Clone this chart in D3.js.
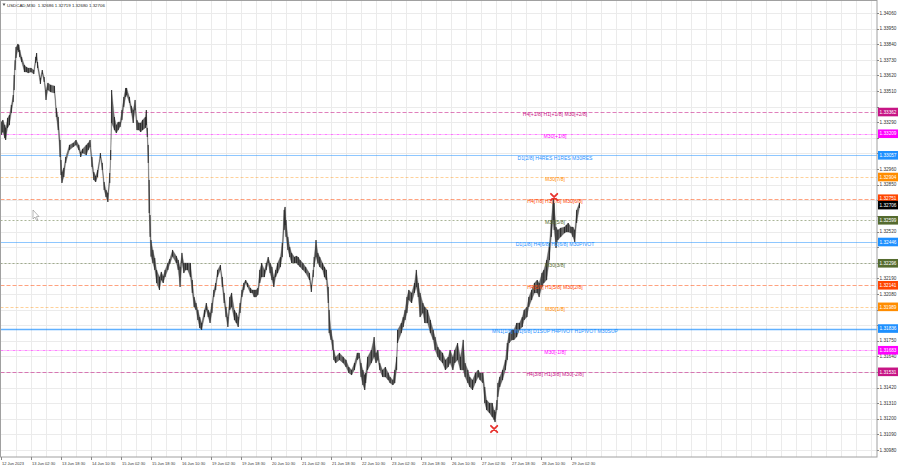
<!DOCTYPE html>
<html><head><meta charset="utf-8">
<script src="https://cdn.jsdelivr.net/npm/d3@7"></script>
<style>
body{margin:0;background:#fff}
svg{display:block}
text{font-family:"Liberation Sans",Arial,sans-serif}
</style>
</head><body>
<svg id="c" width="900" height="468"></svg>
<script>
// ---- data ----
const symbolTitle = "USDCAD,M30  1.32686 1.32719 1.32680 1.32706";
const bars = [
0,2,4,5,7,9,11,13,14,15,
16,18,19,20,22,25,27,29,32,35,
37,38,39,42,44,46,48,50,53,57,
59,61,63,64,65,67,69,73,77,80,
83,85,87,91,93,95,97,99,101,103,
106,108,110,112,114,116,117,118,121,123,
125,127,129,131,133,134,137,139,141,143,
145,147,149,151,154,155,156,157,158,159,
160,162,164,166,169,171,173,175,178,180,
183,187,189,191,193,195,197,199,202,204,
206,208,210,212,214,217,219,221,223,225,
227,229,231,234,236,238,240,242,244,246,
249,251,253,255,257,259,261,263,266,268,
270,272,274,276,278,281,283,285,287,289,
291,293,295,298,300,302,303,304,306,308,
310,313,315,317,319,322,325,329,331,333,
334,336,338,340,343,345,347,349,350,352,
354,355,357,361,365,368,371,374,377,380,
382,384,386,388,389,391,395,398,400,402,
404,407,410,413,415,418,420,422,423,427,
429,431,433,435,438,441,443,445,447,450,
452,455,458,461,463,466,468,471,474,477,
479,482,484,487,490,493,495,498,500,503,
506,509,511,514,516,518,521,524,526,527,
529,530,532,535,538,540,542,545,547,550,
553,556,558,561,563,566,569,572,574,577,
579,582,585,587,589,590,592,594,597,601,
603,605,608,610,612,614,617];
const highs = [
1.33292,1.33306,1.33271,1.33250,1.33320,1.33341,1.33412,1.33482,1.33623,1.33727,
1.33820,1.33842,1.33835,1.33799,1.33750,1.33693,1.33679,1.33672,1.33672,1.33658,
1.33750,1.33778,1.33715,1.33602,1.33658,1.33609,1.33517,1.33567,1.33553,1.33546,
1.33390,1.33327,1.33165,1.33024,1.32939,1.32968,1.33045,1.33130,1.33144,1.33165,
1.33130,1.33080,1.33102,1.33130,1.33144,1.33165,1.33045,1.32939,1.32911,1.32953,
1.33073,1.33003,1.32869,1.32813,1.32791,1.32932,1.33094,1.33517,1.33327,1.33271,
1.33292,1.33292,1.33376,1.33468,1.33531,1.33531,1.33468,1.33405,1.33376,1.33447,
1.33306,1.33285,1.33285,1.33306,1.33327,1.33376,1.33250,1.33130,1.32883,1.32636,
1.32460,1.32390,1.32333,1.32249,1.32199,1.32235,1.32206,1.32249,1.32298,1.32326,
1.32390,1.32347,1.32319,1.32270,1.32369,1.32298,1.32298,1.32298,1.32298,1.32178,
1.32058,1.32016,1.31967,1.31917,1.31875,1.31967,1.32016,1.31967,1.31946,1.32016,
1.32108,1.32157,1.32249,1.32284,1.32199,1.32087,1.31988,1.31917,1.32058,1.32087,
1.31967,1.31946,1.31917,1.32016,1.32108,1.32157,1.32178,1.32157,1.32122,1.32108,
1.32108,1.32108,1.32122,1.32249,1.32298,1.32249,1.32298,1.32340,1.32298,1.32270,
1.32199,1.32249,1.32298,1.32340,1.32439,1.32671,1.32693,1.32601,1.32482,1.32411,
1.32369,1.32340,1.32347,1.32340,1.32319,1.32298,1.32270,1.32227,1.32143,1.32249,
1.32340,1.32460,1.32369,1.32340,1.32298,1.32270,1.32249,1.32129,1.31967,1.31826,
1.31756,1.31685,1.31636,1.31664,1.31636,1.31615,1.31565,1.31544,1.31593,1.31664,
1.31664,1.31593,1.31544,1.31509,1.31523,1.31636,1.31685,1.31776,1.31664,1.31685,
1.31593,1.31544,1.31565,1.31523,1.31495,1.31473,1.31544,1.31636,1.31826,1.31875,
1.31917,1.31967,1.32058,1.32108,1.32087,1.32157,1.32249,1.32157,1.32087,1.32016,
1.31988,1.31967,1.31896,1.31826,1.31776,1.31706,1.31685,1.31664,1.31615,1.31636,
1.31685,1.31636,1.31685,1.31734,1.31636,1.31756,1.31593,1.31544,1.31495,1.31473,
1.31523,1.31544,1.31523,1.31523,1.31424,1.31332,1.31311,1.31311,1.31262,1.31248,
1.31332,1.31452,1.31495,1.31544,1.31615,1.31734,1.31805,1.31826,1.31826,1.31875,
1.31875,1.31917,1.31967,1.31988,1.32058,1.32108,1.32157,1.32178,1.32157,1.32227,
1.32249,1.32319,1.32439,1.32601,1.32756,1.32721,1.32552,1.32531,1.32545,1.32552,
1.32566,1.32580,1.32552,1.32552,1.32531,1.32671,1.32721];
const lows = [
1.33200,1.33221,1.33179,1.33165,1.33250,1.33271,1.33355,1.33433,1.33517,1.33658,
1.33743,1.33799,1.33785,1.33750,1.33715,1.33644,1.33644,1.33637,1.33644,1.33630,
1.33708,1.33727,1.33672,1.33560,1.33630,1.33574,1.33447,1.33517,1.33503,1.33496,
1.33327,1.33235,1.33045,1.32918,1.32862,1.32904,1.33003,1.33094,1.33116,1.33130,
1.33094,1.33045,1.33073,1.33059,1.33094,1.33116,1.32975,1.32883,1.32869,1.32904,
1.33038,1.32953,1.32813,1.32763,1.32728,1.32862,1.33024,1.33285,1.33235,1.33214,
1.33235,1.33257,1.33306,1.33398,1.33468,1.33482,1.33426,1.33355,1.33285,1.33376,
1.33235,1.33235,1.33221,1.33235,1.33250,1.33271,1.33186,1.33003,1.32650,1.32482,
1.32343,1.32298,1.32249,1.32157,1.32108,1.32178,1.32157,1.32199,1.32249,1.32291,
1.32343,1.32298,1.32249,1.32129,1.32298,1.32227,1.32249,1.32249,1.32199,1.32087,
1.31988,1.31967,1.31896,1.31840,1.31826,1.31917,1.31967,1.31917,1.31875,1.31946,
1.32058,1.32108,1.32199,1.32249,1.32129,1.32016,1.31917,1.31847,1.31967,1.31988,
1.31896,1.31875,1.31847,1.31946,1.32058,1.32108,1.32157,1.32129,1.32087,1.32087,
1.32058,1.32058,1.32073,1.32157,1.32199,1.32199,1.32249,1.32298,1.32227,1.32178,
1.32129,1.32199,1.32227,1.32270,1.32340,1.32531,1.32566,1.32482,1.32390,1.32340,
1.32298,1.32298,1.32298,1.32284,1.32270,1.32249,1.32227,1.32178,1.32094,1.32199,
1.32270,1.32340,1.32298,1.32270,1.32249,1.32199,1.32178,1.32016,1.31805,1.31756,
1.31685,1.31615,1.31593,1.31615,1.31593,1.31565,1.31523,1.31509,1.31544,1.31615,
1.31628,1.31495,1.31438,1.31403,1.31452,1.31544,1.31593,1.31636,1.31593,1.31615,
1.31544,1.31495,1.31495,1.31473,1.31452,1.31438,1.31452,1.31544,1.31734,1.31805,
1.31847,1.31896,1.31946,1.32037,1.32016,1.32087,1.32129,1.32058,1.31917,1.31946,
1.31875,1.31875,1.31805,1.31756,1.31685,1.31636,1.31615,1.31593,1.31544,1.31565,
1.31593,1.31544,1.31593,1.31615,1.31544,1.31544,1.31495,1.31452,1.31424,1.31403,
1.31452,1.31495,1.31473,1.31452,1.31311,1.31262,1.31241,1.31213,1.31192,1.31177,
1.31262,1.31354,1.31424,1.31473,1.31544,1.31615,1.31734,1.31756,1.31756,1.31776,
1.31826,1.31847,1.31896,1.31917,1.31988,1.32037,1.32087,1.32087,1.32058,1.32129,
1.32157,1.32178,1.32319,1.32482,1.32601,1.32531,1.32404,1.32460,1.32482,1.32509,
1.32516,1.32516,1.32509,1.32482,1.32446,1.32580,1.32686];

const timeLabels = ["12 Jun 2023","13 Jun 02:30","13 Jun 18:30","14 Jun 10:30","15 Jun 02:30","15 Jun 18:30","16 Jun 10:30","19 Jun 02:30","19 Jun 18:30","20 Jun 10:30","21 Jun 02:30","21 Jun 18:30","22 Jun 10:30","23 Jun 02:30","23 Jun 18:30","26 Jun 10:30","27 Jun 02:30","27 Jun 18:30","28 Jun 10:30","29 Jun 02:30"];
const barsPerLabel = 32;
const priceTicks = [1.34060,1.33950,1.33840,1.33730,1.33620,1.33510,1.33400,1.33290,1.33180,1.33070,1.32960,1.32850,1.32740,1.32630,1.32520,1.32410,1.32300,1.32190,1.32080,1.31970,1.31860,1.31750,1.31640,1.31530,1.31420,1.31310,1.31200,1.31090,1.30980];

const levelPrices = [1.33362,1.33209,1.33057,1.32904,1.32751,1.32599,1.32446,1.32296,1.32141,1.31989,1.31836,1.31683,1.31531];
const levelNames = ["H4[+1/8] H1[+1/8] M30[+2/8]","M30[+1/8]","D1[2/8] H4RES H1RES M30RES","M30[7/8]","H4[7/8] H1[7/8] M30[6/8]","M30[5/8]","D1[1/8] H4[6/8] H1[6/8] M30PIVOT","M30[3/8]","H4[5/8] H1[5/8] M30[2/8]","M30[1/8]","MN1[1/8] W1[6/8] D1SUP H4PIVOT H1PIVOT M30SUP","M30[-1/8]","H4[3/8] H1[3/8] M30[-2/8]"];
const levelGroups = ["outer","ext","res","m30out","inner","m30mid","pivot","m30mid","inner","m30out","sup","ext","outer"];
const currentPrice = 1.32706;
const markerBars = [590, 526];
const markerPrices = [1.32763, 1.31128];

// ---- styles ----
const groupStyle = {
  outer:{c:"#c71585",dash:"4,2",w:1,op:0.55},
  ext:{c:"#ff00ff",dash:"3,1,1,1",w:1,op:0.5},
  res:{c:"#1e90ff",dash:null,w:1,op:0.5},
  pivot:{c:"#1e90ff",dash:null,w:1,op:0.5},
  sup:{c:"#1e90ff",dash:null,w:1.6,op:0.7},
  m30out:{c:"#ff8c00",dash:"3,2",w:1,op:0.4},
  inner:{c:"#ff4500",dash:"4,2",w:1,op:0.5},
  m30mid:{c:"#556b2f",dash:"2,2",w:1,op:0.5}
};
const boxColor = {outer:"#c71585",ext:"#ff00ff",res:"#1e90ff",pivot:"#1e90ff",sup:"#1e90ff",m30out:"#ff8c00",inner:"#ff4500",m30mid:"#556b2f"};

const svg = d3.select("#c");
const plotL = 0.5, plotR = 877, plotT = 0.5, plotB = 457;
const x = d3.scaleLinear().domain([0, barsPerLabel]).range([1, 31]);
const y = d3.scaleLinear().domain([1.30980, 1.34060]).range([450, 13]);

svg.append("rect").attr("width",900).attr("height",468).attr("fill","#fff");

// grid
const gGrid = svg.append("g");
const nBarsView = x.invert(plotR);
for (let b = 16; b < nBarsView; b += 16) {
  gGrid.append("line").attr("x1",Math.round(x(b))+0.5).attr("x2",Math.round(x(b))+0.5)
    .attr("y1",plotT).attr("y2",plotB).attr("stroke","#ebebeb").attr("stroke-width",1);
}
priceTicks.forEach(p => {
  const yy = Math.round(y(p))+0.5;
  gGrid.append("line").attr("x1",plotL).attr("x2",plotR).attr("y1",yy).attr("y2",yy)
    .attr("stroke","#ebebeb").attr("stroke-width",1);
});

// level lines
const gLev = svg.append("g");
levelPrices.forEach((p,i) => {
  const s = groupStyle[levelGroups[i]];
  const yy = Math.round(y(p))+0.5;
  gLev.append("line").attr("x1",plotL).attr("x2",plotR).attr("y1",yy).attr("y2",yy)
    .attr("stroke",s.c).attr("stroke-width",s.w).attr("stroke-opacity",s.op)
    .attr("stroke-dasharray",s.dash);
});

// price
const data = bars.map((b,i) => ({b, h:highs[i], l:lows[i]}));
const area = d3.area().x(d => x(d.b)).y0(d => y(d.l)).y1(d => y(d.h));
svg.append("path").datum(data).attr("d",area)
  .attr("fill","#6a6a6a").attr("stroke","#555").attr("stroke-width",0.3).attr("stroke-linejoin","round");
svg.append("g").selectAll("line").data(data).join("line")
  .attr("x1",d=>x(d.b)).attr("x2",d=>x(d.b)).attr("y1",d=>y(d.h)).attr("y2",d=>y(d.l))
  .attr("stroke","#1e1e1e").attr("stroke-width",0.9);

// level labels
levelPrices.forEach((p,i) => {
  const s = groupStyle[levelGroups[i]];
  svg.append("text").attr("x",555).attr("y",y(p)+4.2).attr("text-anchor","middle")
    .attr("font-size",5.1).attr("fill",s.c).text(levelNames[i]);
});

// markers
markerBars.forEach((b,i) => {
  const cx = x(b), cy = y(markerPrices[i]), r = 3.2;
  svg.append("path").attr("d",`M${cx-r},${cy-r}L${cx+r},${cy+r}M${cx-r},${cy+r}L${cx+r},${cy-r}`)
    .attr("stroke","#e8322e").attr("stroke-width",1.8).attr("stroke-linecap","round");
});

// cursor
svg.append("path").attr("d","M33,210 L33,219 L35,217 L36.5,220.5 L37.8,220 L36.4,216.6 L39,216.5 Z")
  .attr("fill","#fff").attr("stroke","#888").attr("stroke-width",0.6);

// frame
svg.append("rect").attr("x",plotL).attr("y",plotT).attr("width",plotR-plotL).attr("height",plotB-plotT)
  .attr("fill","none").attr("stroke","#a0a0a0").attr("stroke-width",1);

// price boxes (values)
const boxes = levelPrices.map((p,i)=>({p, c:boxColor[levelGroups[i]]}));
boxes.push({p:currentPrice, c:"#000"});

// y axis ticks (labels hidden where a price box covers them)
const gY = svg.append("g");
priceTicks.forEach(p => {
  const yy = y(p);
  gY.append("line").attr("x1",plotR).attr("x2",plotR+2).attr("y1",Math.round(yy)+0.5).attr("y2",Math.round(yy)+0.5).attr("stroke","#888");
  const covered = boxes.some(b => Math.abs(y(b.p) - yy) < 5.5);
  if (!covered)
    gY.append("text").attr("x",879.5).attr("y",yy+1.7).attr("font-size",4.7).attr("fill","#333").text(p.toFixed(5));
});

// x axis
timeLabels.forEach((t,i) => {
  const xx = Math.round(x(i*barsPerLabel))+0.5;
  svg.append("line").attr("x1",xx).attr("x2",xx).attr("y1",plotB).attr("y2",plotB+3).attr("stroke","#888");
  svg.append("text").attr("x",xx+0.5).attr("y",464.8).attr("font-size",4.0).attr("fill","#333").text(t);
});

boxes.forEach(d => {
  const yy = y(d.p);
  svg.append("rect").attr("x",878).attr("y",yy-4.3).attr("width",20).attr("height",8.6).attr("fill",d.c);
  svg.append("text").attr("x",888).attr("y",yy+1.7).attr("text-anchor","middle").attr("font-size",4.7).attr("fill","#fff").text(d.p.toFixed(5));
});

// title
svg.append("path").attr("d","M2.5,3.5 L5.5,3.5 L4,6 Z").attr("fill","#555");
svg.append("text").attr("x",7).attr("y",6.6).attr("font-size",4.4).attr("fill","#222").attr("xml:space","preserve").text(symbolTitle);
</script>
</body></html>
